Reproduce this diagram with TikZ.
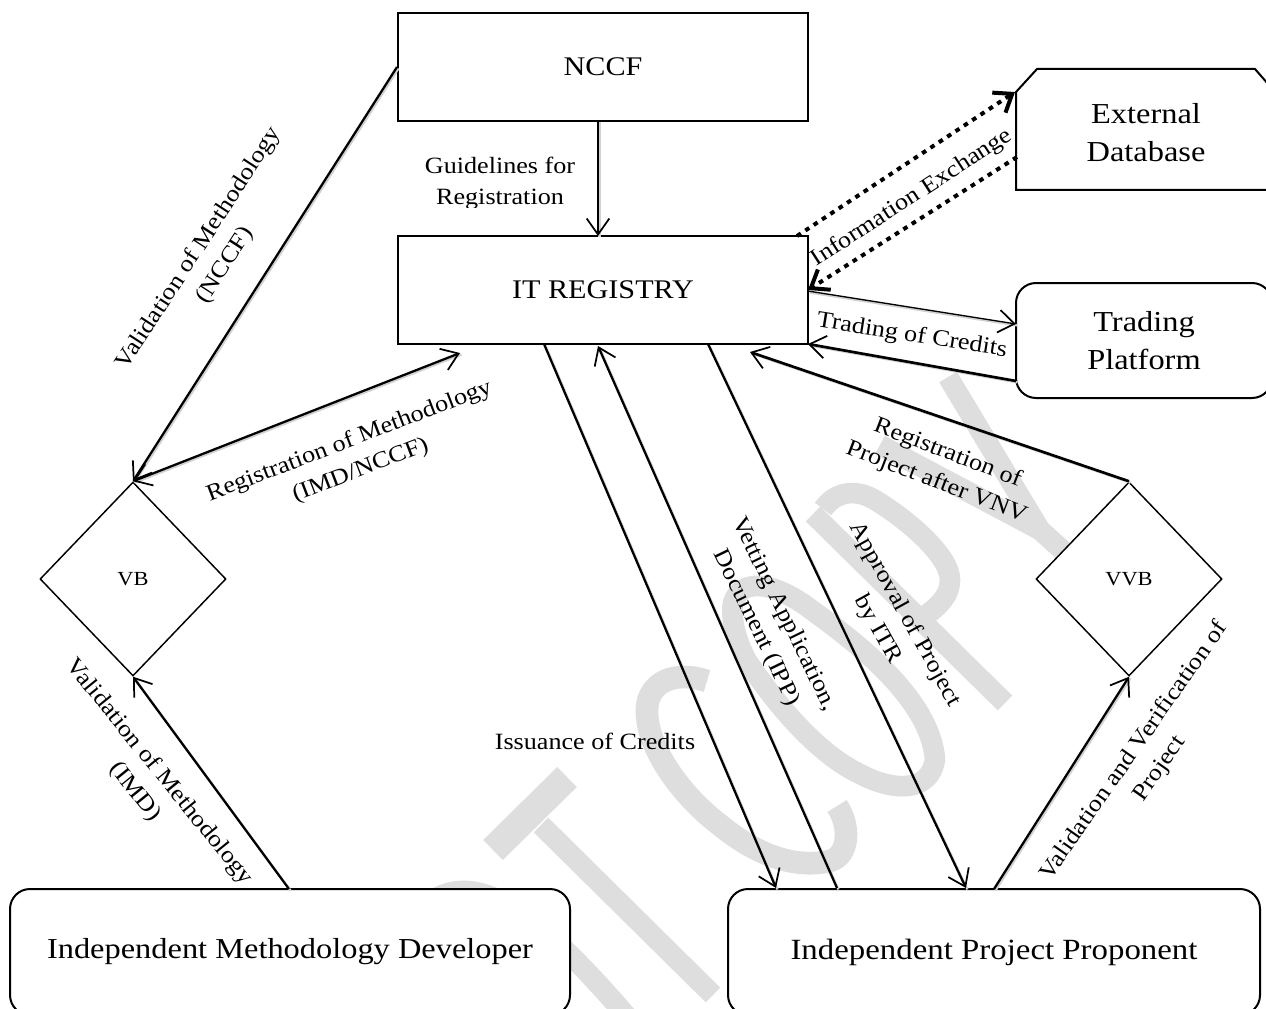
\documentclass[tikz,border=0pt]{standalone}
\usepackage{fontspec}
\setmainfont[FakeStretch=1.12]{Liberation Serif}
\usetikzlibrary{arrows.meta,shapes.geometric,calc}
\definecolor{wm}{HTML}{DEDEDE}
\newcommand{\bigfont}{\fontsize{21.7}{28.5}\selectfont}
\newcommand{\capfont}{\fontsize{20.2}{28.5}\selectfont}
\tikzset{
  box/.style={draw=black,fill=white,line width=1.5pt,minimum width=#1*0.75pt,inner sep=0pt,align=center,font=\bigfont},
  sharp/.style={box=410,minimum height=108*0.75pt,font=\capfont},
  round1/.style={box=#1,rounded corners=15pt,minimum height=126*0.75pt},
  dia/.style={diamond,draw=black,fill=white,line width=1.1pt,inner sep=0pt,minimum width=186*0.75pt,minimum height=194*0.75pt,font=\fontsize{15}{18}\selectfont},
  lab/.style={align=center,inner sep=0pt,font=\fontsize{17.5}{23.3}\selectfont},
  shade/.style={preaction={draw=black!18,line width=1.7pt,-,transform canvas={xshift=1.1pt,yshift=-1.1pt}}},
  conn/.style={shade,line width=1.7pt,-{Straight Barb[length=12pt,width=17pt,line width=1.3pt]}},
  dotconn/.style={line width=3pt,dash pattern=on 3.5pt off 4pt,-{Straight Barb[length=12pt,width=18pt,line width=3pt]}},
  wmark/.style={draw=wm,line width=15.5pt,line cap=butt,line join=round}
}
\begin{document}
\begin{tikzpicture}[x=0.75pt,y=-0.75pt]
\useasboundingbox (0,0) rectangle (1266,1009);
% watermark
\draw[wmark,line width=21pt] (567,777) -- (493,850);
\draw[wmark] (541,825) -- (713,995);
\draw[wmark] (433,900) .. controls (480,870) and (540,915) .. (630,1020);
\draw[wmark,line width=17pt] (707,681) .. controls (680,672) and (655,678) .. (648,701) .. controls (640,740) and (680,795) .. (720,825) .. controls (750,850) and (790,870) .. (830,861) .. controls (850,855) and (850,825) .. (837,806);
\draw[wmark] (733,603) .. controls (740,580) and (770,578) .. (813,611) .. controls (860,645) and (930,700) .. (935,759) .. controls (930,795) and (890,790) .. (860,774) .. controls (820,755) and (780,710) .. (747,661) .. controls (738,645) and (730,620) .. (733,603) -- cycle;
\draw[wmark] (813,514) -- (1005,703);
\draw[wmark] (823,509) .. controls (835,492) and (855,488) .. (875,500) .. controls (905,518) and (950,555) .. (950,580) .. controls (950,595) and (940,605) .. (925,616);
\draw[wmark] (948,377) -- (1040,530) -- (880,445);
\draw[wmark] (1040,530) -- (1090,575);
% labels
\node[lab,rotate=57] (l1) at (212,257) {Validation of Methodology\\(NCCF)};
\begin{scope}
\clip (400,150) rectangle (600,208);
\node[lab] (l2) at (500,183) {Guidelines for\\Registration};
\end{scope}
\node[lab,rotate=21] (l3) at (355,456) {Registration of Methodology\\(IMD/NCCF)};
\node[lab,rotate=-51] (l4) at (147,782) {Validation of Methodology\\(IMD)};
\node[lab] (l5) at (595,741) {Issuance of Credits};
\node[lab,rotate=-64] (l6) at (770,621) {Vetting Application,\\Document (IPP)};
\node[lab,rotate=-61] (l7) at (891,622) {Approval of Project\\by ITR};
\node[lab,rotate=-21] (l8) at (942,468) {Registration of\\Project after VNV};
\node[lab,rotate=55] (l9) at (1147,760) {Validation and Verification of\\Project};
\node[lab,rotate=33] (l10) at (912,198) {Information Exchange};
\node[lab,rotate=-9] (l11) at (912,336) {Trading of Credits};
% shapes
\node[sharp] (nccf) at (603,67) {NCCF};
\node[sharp] (itr) at (603,290) {IT REGISTRY};
\node[dia] (vb) at (133,579) {VB};
\node[dia] (vvb) at (1129,579) {VVB};
\node[round1=560] (imd) at (290,952) {Independent Methodology Developer};
\node[round1=532,font=\fontsize{22}{28.5}\selectfont] (ipp) at (994,952) {Independent Project Proponent};
\node[box=256,rounded corners=15pt,minimum height=115*0.75pt] (trade) at (1144,340.5) {Trading\\Platform};
\draw[line width=1.5pt,fill=white] (1016,92) -- (1037,69) -- (1255,69) -- (1275,92) -- (1275,190) -- (1016,190) -- cycle;
\node[align=center,inner sep=0pt,font=\bigfont] (ext) at (1146,133) {External\\Database};
% anchors of connector ends
\coordinate (a1) at (598,121);
\coordinate (a2) at (598,236);
\coordinate (a3) at (460,353);
\coordinate (a4) at (750,352);
\coordinate (a5) at (544,344);
\coordinate (a6) at (776,888);
\coordinate (a7) at (837,888);
\coordinate (a8) at (598,346);
\coordinate (a9) at (708,344);
\coordinate (a10) at (966,888);
\coordinate (a11) at (994,889);
\coordinate (a12) at (289,889);
\coordinate (a13) at (808,291);
\coordinate (a14) at (1016,324);
\coordinate (a15) at (1016,381);
\coordinate (a16) at (808,344);
\coordinate (a17) at (797,236);
\coordinate (a18) at (1015,92);
\coordinate (a19) at (1017,157);
\coordinate (a20) at (808,290);
% connectors
\draw[conn] (nccf.west) -- (vb.north);
\draw[conn] (a1) -- (a2);
\draw[conn,{Straight Barb[length=12pt,width=17pt,line width=1.3pt]}-{Straight Barb[length=12pt,width=17pt,line width=1.3pt]}] (vb.north) -- (a3);
\draw[conn,line width=2pt] (vvb.north) -- (a4);
\draw[conn] (a5) -- (a6);
\draw[conn] (a7) -- (a8);
\draw[conn] (a9) -- (a10);
\draw[conn] (a11) -- (vvb.south);
\draw[conn] (a12) -- (vb.south);
\draw[conn,line width=1pt] (a13) -- (a14);
\draw[conn,line width=2pt] (a15) -- (a16);
\draw[dotconn] (a17) -- (a18);
\draw[dotconn] (a19) -- (a20);
\end{tikzpicture}
\end{document}
